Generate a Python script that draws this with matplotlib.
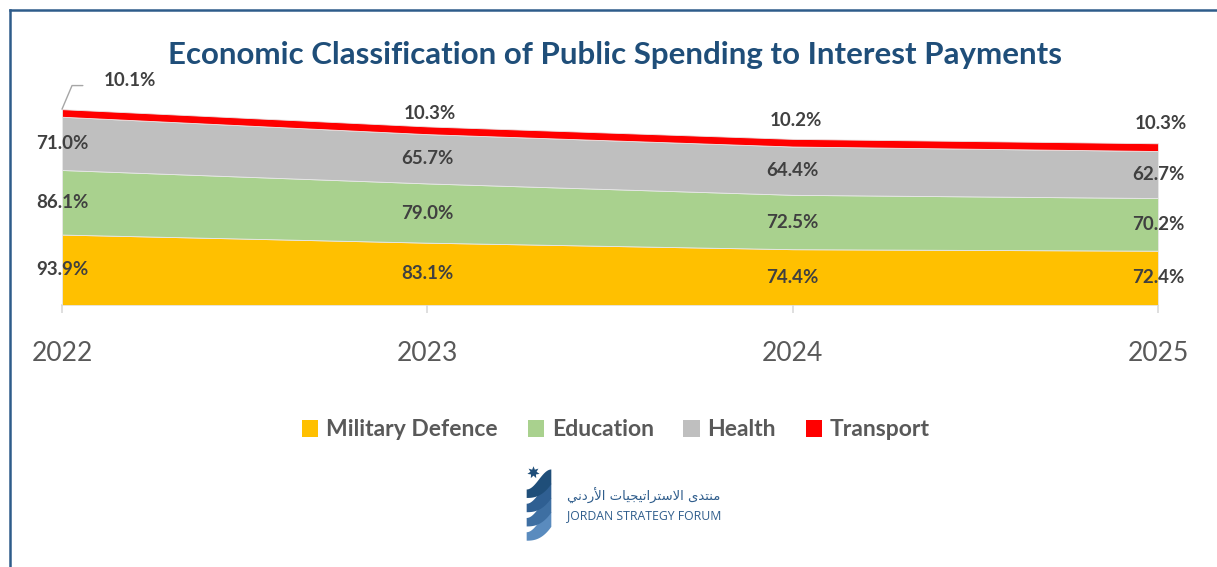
import matplotlib
matplotlib.use("Agg")
import matplotlib.pyplot as plt
import matplotlib.patches as mpatches
from matplotlib.lines import Line2D
import numpy as np

plt.rcParams["font.family"] = ["Lato", "DejaVu Sans"]

years = ["2022", "2023", "2024", "2025"]
military = [93.9, 83.1, 74.4, 72.4]
education = [86.1, 79.0, 72.5, 70.2]
health = [71.0, 65.7, 64.4, 62.7]
transport = [10.1, 10.3, 10.2, 10.3]

series_names = ["Military Defence", "Education", "Health", "Transport"]
colors = ["#FFC000", "#A9D18E", "#BFBFBF", "#FF0000"]

W, H = 1217, 567
fig = plt.figure(figsize=(W / 100, H / 100), dpi=100)

# frame lines (top + left)
fig.add_artist(Line2D([10 / W, 1], [1 - 10 / H, 1 - 10 / H], color="#2E5C8A", lw=1.8))
fig.add_artist(Line2D([10 / W, 10 / W], [0, 1 - 10 / H], color="#2E5C8A", lw=1.8))

ax = fig.add_axes([62 / W, 262 / H, (1158 - 62) / W, 225 / H])
x = np.arange(len(years))
data = [military, education, health, transport]
ax.stackplot(x, *data, colors=colors, edgecolor="#E8E8E8", linewidth=0.6)

ax.set_xlim(0, len(years) - 1)
ax.set_ylim(0, 300)
ax.set_yticks([])
for s in ["top", "right", "left"]:
    ax.spines[s].set_visible(False)
ax.spines["bottom"].set_color("#D9D9D9")
ax.spines["bottom"].set_linewidth(1.2)
ax.spines["bottom"].set_zorder(0)
ax.set_xticks(x)
ax.set_xticklabels(years, fontsize=19, color="#595959")
ax.tick_params(axis="x", length=6, width=1.2, color="#D9D9D9", pad=20)

# labels centred in the first three bands
lab_kw = dict(ha="center", va="center", fontsize=13.5, fontweight="bold", color="#404040")
base = np.zeros(len(years))
for vals in data[:3]:
    vals = np.array(vals)
    for i, v in enumerate(vals):
        ax.text(x[i], base[i] + v / 2, f"{v:.1f}%", **lab_kw)
    base += vals

# transport labels above the stack
tops = base + np.array(transport)
offsets = [None, 9, 13, 14]
for i, v in enumerate(transport):
    if offsets[i] is None:
        continue
    ax.annotate(f"{v:.1f}%", xy=(x[i], tops[i]), xytext=(2, offsets[i]),
                textcoords="offset points", **lab_kw)

# first transport label with a leader line
ax.annotate("", xy=(x[0], tops[0]), xytext=(15, 17), textcoords="offset points",
            arrowprops=dict(arrowstyle="-", color="#A6A6A6", lw=1,
                            connectionstyle="angle,angleA=0,angleB=67,rad=0",
                            shrinkA=0, shrinkB=0))
ax.annotate(f"{transport[0]:.1f}%", xy=(x[0], tops[0]), xytext=(49, 21),
            textcoords="offset points", **lab_kw)

fig.text(615 / W, 1 - 55 / H,
         "Economic Classification of Public Spending to Interest Payments",
         ha="center", va="center", fontsize=22.5, fontweight="bold", color="#1F4E79")

handles = [mpatches.Patch(facecolor=c, edgecolor="none", label=n)
           for c, n in zip(colors, series_names)]
leg = fig.legend(handles=handles, loc="center", bbox_to_anchor=(616 / W, 1 - 430 / H),
                 ncol=4, frameon=False, handlelength=0.7, handleheight=0.7,
                 handletextpad=0.35, columnspacing=1.3,
                 prop={"size": 16.5, "weight": "bold"})
for t in leg.get_texts():
    t.set_color("#595959")

# logo: twisted ribbon + star
lax = fig.add_axes([525 / W, (567 - 543) / H, 28 / W, 77 / H])
lax.set_xlim(0, 1)
lax.set_ylim(0, 1)
lax.axis("off")
band_cols = ["#5A8BBE", "#3E6FA2", "#2F5F92", "#1F4E79"]
t = np.linspace(0, 1, 30)
for i, c in enumerate(band_cols):
    y0 = 0.03 + i * 0.185
    xs = 0.06 + 0.88 * t
    top = y0 + 0.11 + 0.26 * np.sin(t * np.pi / 2) ** 2
    bot = y0 + 0.18 * t ** 2.5
    lax.fill(np.r_[xs, xs[::-1]], np.r_[bot, top[::-1]], color=c, lw=0)
lax.plot(0.3, 0.92, marker=(7, 1, 0), ms=9, color="#1F4E79", mec="none")

w1 = [0xFEE3, 0xFEE8, 0xFE98, 0xFEAA, 0xFEEF]
w2 = [0xFE8D, 0xFEFB, 0xFEB3, 0xFE98, 0xFEAE, 0xFE8D, 0xFE97, 0xFEF4, 0xFEA0, 0xFEF4, 0xFE8E, 0xFE95]
w3 = [0xFE8D, 0xFEF7, 0xFEAD, 0xFEA9, 0xFEE7, 0xFEF2]
logical = w1 + [0x20] + w2 + [0x20] + w3
arabic = "".join(chr(c) for c in reversed(logical))
fig.text(567 / W, 1 - 496 / H, arabic, ha="left", va="center", fontsize=9.5,
         color="#2F5D8C", family=["DejaVu Sans"])
fig.text(567 / W, 1 - 516 / H, "JORDAN STRATEGY FORUM", ha="left", va="center",
         fontsize=8.8, color="#2F5D8C", family=["Open Sans", "DejaVu Sans"])

fig.savefig("out.png", dpi=100)
